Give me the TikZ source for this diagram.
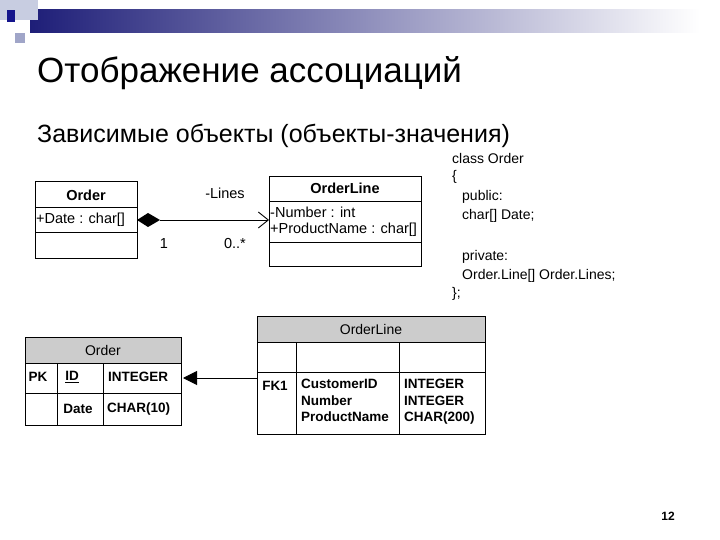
\documentclass[tikz,border=0pt]{standalone}
\usepackage{fontspec}
\setmainfont{Liberation Sans}
\usetikzlibrary{arrows.meta}
\definecolor{barblue}{RGB}{30,30,120}
\definecolor{sqa}{RGB}{200,205,225}
\definecolor{sqb}{RGB}{160,165,200}
\definecolor{sqc}{RGB}{20,20,140}
\begin{document}
\begin{tikzpicture}[x=1pt,y=-1pt,
  box/.style={draw,line width=0.9pt},
  t/.style={font=\fontsize{14.5}{16}\selectfont,inner sep=0pt},
  tb/.style={font=\bfseries\fontsize{13.5}{15}\selectfont,inner sep=0pt},
  code/.style={font=\fontsize{14}{16}\selectfont,inner sep=0pt,anchor=west}]
\useasboundingbox (0,0) rectangle (720,540);
% decoration
\shade[left color=barblue, right color=white] (30,10) rectangle (700,33);
\fill[sqa] (0,0) rectangle (38,20);
\fill[sqb] (15,33) rectangle (25,43);
\fill[sqc] (7,10) rectangle (15,22);
% titles
\node[anchor=west,inner sep=0pt,font=\fontsize{35}{38}\selectfont] (title) at (37,73) {Отображение ассоциаций};
\node[anchor=west,inner sep=0pt,font=\fontsize{25}{28}\selectfont] (sub) at (37,136) {Зависимые объекты (объекты-значения)};
% UML Order
\draw[box] (35,181) rectangle (137,258);
\draw[box] (35,207) -- (137,207) (35,232) -- (137,232);
\node[tb,font=\bfseries\fontsize{14.5}{16}\selectfont] (ot) at (86,195) {Order};
\node[t,anchor=west] (oa) at (36,220) {+Date : char[]};
\coordinate (oR) at (137,220);
% UML OrderLine
\draw[box] (269,176) rectangle (421,266);
\draw[box] (269,201) -- (421,201) (269,242) -- (421,242);
\node[tb,font=\bfseries\fontsize{14.5}{16}\selectfont] (lt) at (345,188) {OrderLine};
\node[t,anchor=west] (la1) at (270,212) {-Number : int};
\node[t,anchor=west] (la2) at (270,230) {+ProductName : char[]};
\coordinate (lL) at (269,220);
\draw[line width=0.9pt,-{Straight Barb[length=10pt,width=16pt]}] (oR) ++(23,0) -- (lL);
\fill (137,220) -- (148,213) -- (160,220) -- (148,227) -- cycle;
\node[t] (lines) at (225,193) {-Lines};
\node[t] (m1) at (164,244) {1};
\node[t] (m2) at (235,244) {0..*};
% code
\node[code] (c1) at (452,158) {class Order};
\node[code] (c2) at (452,177) {\{};
\node[code] (c3) at (462,197) {public:};
\node[code] (c4) at (462,216) {char[] Date;};
\node[code] (c5) at (462,257) {private:};
\node[code] (c6) at (462,276) {Order.Line[] Order.Lines;};
\node[code] (c7) at (452,294) {\};};
% Order table
\fill[gray!40] (25,337) rectangle (181,363);
\draw[box] (25,337) rectangle (181,425);
\draw[box] (25,363) -- (181,363) (25,393) -- (181,393) (57,363) -- (57,425) (103,363) -- (103,425);
\node[t,font=\fontsize{14}{16}\selectfont] (oh) at (103,350) {Order};
\node[tb] (pk) at (38,377) {PK};
\node[tb] (id) at (72,377) {\underline{ID}};
\node[tb,anchor=west] (int) at (108,377) {INTEGER};
\node[tb] (dt) at (78,409) {Date};
\node[tb,anchor=west] (ch) at (107,409) {CHAR(10)};
% OrderLine table
\fill[gray!40] (257,316) rectangle (485,342);
\draw[box] (257,316) rectangle (485,434);
\draw[box] (257,342) -- (485,342) (257,372) -- (485,372) (296,342) -- (296,434) (399,342) -- (399,434);
\node[t,font=\fontsize{14}{16}\selectfont] (olh) at (371,329) {OrderLine};
\node[tb] (fk) at (275,386) {FK1};
\node[tb,anchor=north west,align=left,font=\bfseries\fontsize{13.5}{16.5}\selectfont] (cols) at (301,379) {CustomerID\\Number\\ProductName};
\node[tb,anchor=north west,align=left,font=\bfseries\fontsize{13.5}{16.5}\selectfont] (types) at (404,379) {INTEGER\\INTEGER\\CHAR(200)};
\coordinate (olL) at (257,378);
\coordinate (oRt) at (183,378);
\draw[line width=1pt,-{Triangle[length=14pt,width=14pt]}] (olL) -- (oRt);
% page number
\node[tb,font=\bfseries\fontsize{12}{14}\selectfont] (pg) at (668,516) {12};
\end{tikzpicture}
\end{document}
